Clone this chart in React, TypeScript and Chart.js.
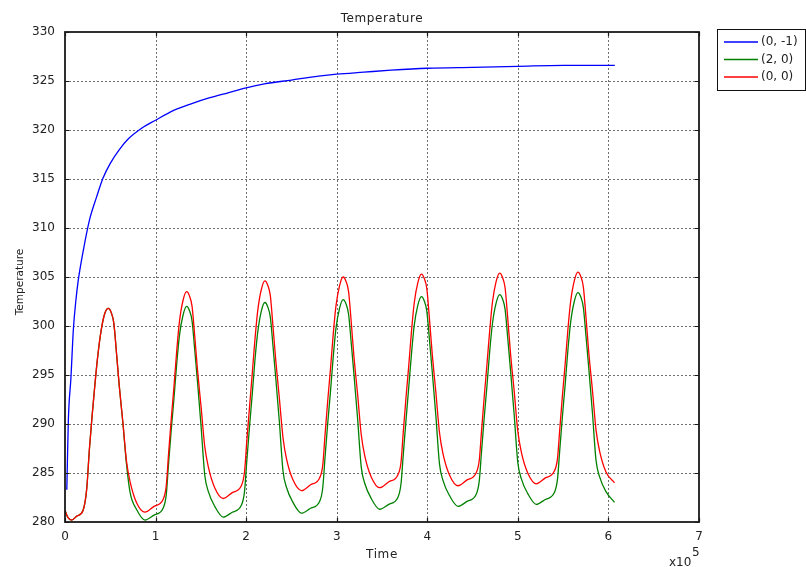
import { useEffect, useRef } from 'react';
import { Chart, registerables } from 'chart.js';

Chart.register(...registerables);

// ---------- data (time in units of 1e5 s, temperature in K) ----------
const blueTime = [0.02, 0.037, 0.066, 0.092, 0.12, 0.147, 0.2, 0.27, 0.35, 0.42, 0.5, 0.6, 0.7, 0.85, 1.0, 1.2, 1.4, 1.6, 1.8, 2.0, 2.2, 2.5, 2.8, 3.0, 3.3, 3.6, 4.0, 4.5, 5.0, 5.5, 6.07];
const blueTemp = [283.3, 290.4, 294.8, 299.6, 302.6, 304.7, 307.6, 310.8, 313.2, 315.1, 316.6, 318.0, 319.1, 320.2, 321.0, 322.0, 322.7, 323.3, 323.8, 324.3, 324.7, 325.1, 325.5, 325.7, 325.9, 326.1, 326.3, 326.4, 326.5, 326.6, 326.6];

const oscTime = [
  0, 0.03, 0.074, 0.13, 0.2, 0.24, 0.27, 0.3, 0.33, 0.36, 0.4, 0.44, 0.479, 0.509, 0.539, 0.569, 0.599, 0.639, 0.679, 0.719, 0.789,
  0.883, 0.983, 1.083, 1.118, 1.143, 1.173, 1.203, 1.233, 1.263, 1.303, 1.343, 1.373, 1.403, 1.433, 1.463, 1.503, 1.543, 1.583, 1.653,
  1.747, 1.847, 1.947, 1.982, 2.007, 2.037, 2.067, 2.097, 2.127, 2.167, 2.207, 2.237, 2.267, 2.297, 2.327, 2.367, 2.407, 2.447, 2.517,
  2.611, 2.711, 2.811, 2.846, 2.871, 2.901, 2.931, 2.961, 2.991, 3.031, 3.071, 3.101, 3.131, 3.161, 3.191, 3.231, 3.271, 3.311, 3.381,
  3.475, 3.575, 3.675, 3.71, 3.735, 3.765, 3.795, 3.825, 3.855, 3.895, 3.935, 3.965, 3.995, 4.025, 4.055, 4.095, 4.135, 4.175, 4.245,
  4.339, 4.439, 4.539, 4.574, 4.599, 4.629, 4.659, 4.689, 4.719, 4.759, 4.799, 4.829, 4.859, 4.889, 4.919, 4.959, 4.999, 5.039, 5.109,
  5.203, 5.303, 5.403, 5.438, 5.463, 5.493, 5.523, 5.553, 5.583, 5.623, 5.663, 5.693, 5.723, 5.753, 5.783, 5.823, 5.863, 5.903, 5.973, 6.067,
];

const redTemp = [
  281.2, 280.5, 280.2, 280.6, 281.2, 283.4, 287.5, 290.9, 294.0, 296.8, 299.6, 301.3, 301.8, 301.4, 300.3, 297.2, 293.9, 290.2, 286.2, 284.1, 282.0,
  281.0, 281.6, 282.3, 283.7, 286.9, 290.5, 293.8, 297.4, 300.4, 302.6, 303.5, 303.1, 302.0, 298.9, 295.5, 291.7, 287.7, 285.6, 283.5,
  282.4, 283.0, 283.7, 285.1, 288.2, 291.7, 295.1, 298.6, 301.5, 303.7, 304.6, 304.2, 303.1, 299.9, 296.5, 292.6, 288.6, 286.4, 284.3,
  283.2, 283.8, 284.5, 285.8, 288.9, 292.4, 295.6, 299.1, 302.0, 304.1, 305.0, 304.6, 303.5, 300.3, 296.8, 293.0, 288.9, 286.7, 284.6,
  283.5, 284.1, 284.8, 286.1, 289.2, 292.7, 295.9, 299.4, 302.3, 304.4, 305.3, 304.9, 303.8, 300.6, 297.1, 293.2, 289.1, 286.9, 284.8,
  283.7, 284.3, 285.0, 286.3, 289.3, 292.8, 296.1, 299.5, 302.4, 304.5, 305.4, 305.0, 303.9, 300.7, 297.2, 293.4, 289.3, 287.1, 285.0,
  283.9, 284.5, 285.2, 286.5, 289.5, 293.0, 296.2, 299.7, 302.5, 304.6, 305.5, 305.1, 304.0, 300.8, 297.3, 293.5, 289.4, 287.2, 285.1, 284.0,
];

const greenTemp = [
  281.2, 280.5, 280.2, 280.6, 281.2, 283.4, 287.5, 290.9, 294.0, 296.8, 299.6, 301.3, 301.8, 301.4, 300.3, 297.2, 293.9, 290.1, 285.9, 283.0, 281.3,
  280.2, 280.7, 281.4, 282.8, 285.9, 289.4, 292.6, 296.1, 299.0, 301.1, 302.0, 301.6, 300.5, 297.5, 294.3, 289.7, 284.8, 283.1, 281.6,
  280.5, 281.0, 281.7, 283.1, 286.2, 289.7, 293.0, 296.5, 299.3, 301.5, 302.4, 302.0, 300.9, 297.9, 294.7, 290.2, 285.2, 283.5, 282.0,
  280.9, 281.4, 282.1, 283.5, 286.6, 290.1, 293.3, 296.8, 299.7, 301.8, 302.7, 302.3, 301.2, 298.2, 295.0, 290.5, 285.6, 283.9, 282.4,
  281.3, 281.8, 282.5, 283.9, 286.9, 290.4, 293.7, 297.1, 300.0, 302.1, 303.0, 302.6, 301.5, 298.5, 295.3, 290.8, 285.9, 284.2, 282.7,
  281.6, 282.1, 282.8, 284.2, 287.2, 290.7, 293.9, 297.4, 300.2, 302.3, 303.2, 302.8, 301.7, 298.7, 295.5, 291.0, 286.1, 284.4, 282.9,
  281.8, 282.3, 283.0, 284.4, 287.4, 290.9, 294.1, 297.6, 300.4, 302.5, 303.4, 303.0, 301.9, 298.9, 295.7, 291.2, 286.3, 284.6, 283.1, 282.0,
];

const seriesLabels = ['(0, -1)', '(2, 0)', '(0, 0)'];
const seriesColors = ['#0000ff', '#008000', '#ff0000'];
const xTickValues = [0, 1, 2, 3, 4, 5, 6, 7];
const yTickValues = [280, 285, 290, 295, 300, 305, 310, 315, 320, 325, 330];
const chartTitle = 'Temperature';
const xTitle = 'Time';
const yTitle = 'Temperature';
const xMultiplier = 'x10';
const xExponent = '5';

const FONT = 'DejaVu Sans';

const decorPlugin = {
  id: 'decor',
  beforeDatasetsDraw(chart: any) {
    const { ctx, chartArea: a, scales } = chart;
    const x = scales.x;
    const y = scales.y;
    ctx.save();
    ctx.strokeStyle = '#6e6e6e';
    ctx.lineWidth = 1;
    ctx.setLineDash([2, 2]);
    for (const v of xTickValues) {
      if (v === xTickValues[0] || v === xTickValues[xTickValues.length - 1]) continue;
      const px = Math.round(x.getPixelForValue(v)) + 0.5;
      ctx.beginPath();
      ctx.moveTo(px, a.top);
      ctx.lineTo(px, a.bottom);
      ctx.stroke();
    }
    for (const v of yTickValues) {
      if (v === yTickValues[0] || v === yTickValues[yTickValues.length - 1]) continue;
      const py = Math.round(y.getPixelForValue(v)) + 0.5;
      ctx.beginPath();
      ctx.moveTo(a.left, py);
      ctx.lineTo(a.right, py);
      ctx.stroke();
    }
    ctx.restore();
  },
  afterDatasetsDraw(chart: any) {
    const { ctx, chartArea: a, scales } = chart;
    const x = scales.x;
    const y = scales.y;
    ctx.save();
    ctx.setLineDash([]);
    ctx.strokeStyle = '#1a1a1a';
    ctx.lineWidth = 1.8;
    ctx.strokeRect(a.left, a.top, a.right - a.left, a.bottom - a.top);
    ctx.lineWidth = 1.2;
    const tl = 4;
    for (const v of xTickValues) {
      const px = Math.round(x.getPixelForValue(v)) + 0.5;
      ctx.beginPath();
      ctx.moveTo(px, a.bottom);
      ctx.lineTo(px, a.bottom - tl);
      ctx.moveTo(px, a.top);
      ctx.lineTo(px, a.top + tl);
      ctx.stroke();
    }
    for (const v of yTickValues) {
      const py = Math.round(y.getPixelForValue(v)) + 0.5;
      ctx.beginPath();
      ctx.moveTo(a.left, py);
      ctx.lineTo(a.left + tl, py);
      ctx.moveTo(a.right, py);
      ctx.lineTo(a.right - tl, py);
      ctx.stroke();
    }
    ctx.restore();
  },
  afterDraw(chart: any) {
    const { ctx, chartArea: a } = chart;
    const cx = (a.left + a.right) / 2;
    ctx.save();
    ctx.fillStyle = '#222';
    ctx.font = `12px "${FONT}"`;
    (ctx as any).letterSpacing = '0.6px';
    ctx.textAlign = 'center';
    ctx.textBaseline = 'middle';
    ctx.fillText(chartTitle, cx, 19);
    ctx.fillText(xTitle, cx, 555);
    (ctx as any).letterSpacing = '0px';
    ctx.save();
    ctx.translate(20, 282);
    ctx.rotate(-Math.PI / 2);
    ctx.font = `10.5px "${FONT}"`;
    ctx.fillText(yTitle, 0, 0);
    ctx.restore();
    // multiplier x10^5
    ctx.textAlign = 'left';
    ctx.textBaseline = 'alphabetic';
    ctx.font = `12px "${FONT}"`;
    ctx.fillText(xMultiplier, 669, 566);
    ctx.font = `12px "${FONT}"`;
    ctx.fillText(xExponent, 692, 556);

    // legend
    ctx.strokeStyle = '#111';
    ctx.lineWidth = 1;
    ctx.strokeRect(717.5, 29.5, 88, 61);
    ctx.font = `12px "${FONT}"`;
    ctx.textBaseline = 'middle';
    const rows = [42, 59.5, 77];
    seriesLabels.forEach((lab, i) => {
      ctx.strokeStyle = seriesColors[i];
      ctx.lineWidth = 1.3;
      ctx.beginPath();
      ctx.moveTo(724, rows[i]);
      ctx.lineTo(758, rows[i]);
      ctx.stroke();
      ctx.fillStyle = '#222';
      ctx.fillText(lab, 761, rows[i]);
    });
    ctx.restore();
  },
};

export default function App() {
  const ref = useRef<HTMLCanvasElement | null>(null);

  useEffect(() => {
    if (!ref.current) return;
    Chart.defaults.font.family = FONT;
    const toPts = (xs: number[], ys: number[]) => xs.map((t, i) => ({ x: t, y: ys[i] }));
    const chart = new Chart(ref.current, {
      type: 'line',
      data: {
        datasets: [
          { label: seriesLabels[0], data: toPts(blueTime, blueTemp), borderColor: seriesColors[0], order: 2 },
          { label: seriesLabels[1], data: toPts(oscTime, greenTemp), borderColor: seriesColors[1], order: 1 },
          { label: seriesLabels[2], data: toPts(oscTime, redTemp), borderColor: seriesColors[2], order: 0 },
        ].map((d) => ({
          ...d,
          borderWidth: 1.3,
          pointRadius: 0,
          fill: false,
          cubicInterpolationMode: 'monotone' as const,
        })),
      },
      options: {
        animation: false,
        responsive: false,
        events: [],
        layout: { padding: { top: 32, right: 107, left: 0, bottom: 0 } },
        plugins: {
          legend: { display: false },
          title: { display: false },
          tooltip: { enabled: false },
        },
        scales: {
          x: {
            type: 'linear',
            min: xTickValues[0],
            max: xTickValues[xTickValues.length - 1],
            afterBuildTicks: (s: any) => { s.ticks = xTickValues.map((v) => ({ value: v })); },
            afterFit: (s: any) => { s.height = 45; },
            grid: { display: false, drawTicks: false },
            border: { display: false },
            ticks: {
              autoSkip: false,
              maxRotation: 0,
              padding: 8,
              color: '#222',
              font: { size: 12, family: FONT },
              callback: (v: any) => String(v),
            },
          },
          y: {
            type: 'linear',
            min: yTickValues[0],
            max: yTickValues[yTickValues.length - 1],
            afterBuildTicks: (s: any) => { s.ticks = yTickValues.map((v) => ({ value: v })); },
            afterFit: (s: any) => { s.width = 65; },
            grid: { display: false, drawTicks: false },
            border: { display: false },
            ticks: {
              autoSkip: false,
              padding: 10,
              color: '#222',
              font: { size: 12, family: FONT },
              callback: (v: any) => String(v),
            },
          },
        },
      },
      plugins: [decorPlugin],
    });
    return () => chart.destroy();
  }, []);

  return (
    <div style={{ position: 'fixed', left: 0, top: 0, width: 806, height: 567, background: '#fff' }}>
      <canvas ref={ref} width={806} height={567} style={{ display: 'block' }} />
    </div>
  );
}
